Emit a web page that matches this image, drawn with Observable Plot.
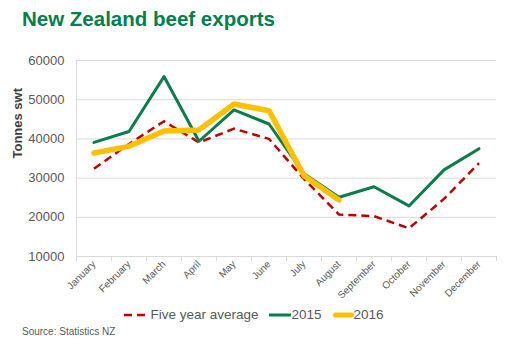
<!DOCTYPE html>
<html><head><meta charset="utf-8">
<script src="https://cdn.jsdelivr.net/npm/d3@7"></script>
<script src="https://cdn.jsdelivr.net/npm/@observablehq/plot@0.6"></script>
<style>
body{margin:0;width:505px;height:345px;overflow:hidden;background:#fff;font-family:"Liberation Sans",Arial,sans-serif;}
#title{font-size:20.5px;font-weight:bold;color:#00804a;line-height:20px;height:20px;padding:9px 0 11px 22px;white-space:nowrap;}
#chart{height:265px;}
#chart svg{display:block;}
#legend{height:20px;line-height:20px;font-size:13.5px;color:#595959;display:flex;justify-content:center;align-items:center;padding-left:3px;}
#legend .item{display:flex;align-items:center;margin:0 5.5px;}
#legend svg{display:block;}
#source{font-size:10px;line-height:14px;height:14px;color:#595959;padding-left:22px;}
</style>
</head><body>
<div id="title">New Zealand beef exports</div>
<div id="chart"></div>
<div id="legend">
  <span class="item"><svg width="21" height="10"><line x1="0" y1="5" x2="21" y2="5" stroke="#c00000" stroke-width="2.5" stroke-dasharray="8,5"/></svg><span style="margin-left:5px">Five year average</span></span>
  <span class="item"><svg width="22" height="10"><line x1="0" y1="5" x2="22" y2="5" stroke="#0a7d4a" stroke-width="3"/></svg><span>2015</span></span>
  <span class="item"><svg width="21" height="10"><line x1="2.5" y1="5" x2="18.5" y2="5" stroke="#ffc000" stroke-width="5" stroke-linecap="round"/></svg><span>2016</span></span>
</div>
<div id="source">Source: Statistics NZ</div>
<script>
const months = ["January","February","March","April","May","June","July","August","September","October","November","December"];
const fiveYearAvg = [32400, 38700, 44500, 39100, 42600, 40000, 29800, 20700, 20300, 17200, 24700, 33800];
const y2015 = [39100, 41900, 55900, 39400, 47400, 43800, 31100, 25100, 27800, 22900, 32100, 37500];
const y2016 = [36400, 38100, 42000, 42300, 48900, 47200, 30600, 24400];
const yTicks = [10000, 20000, 30000, 40000, 50000, 60000];

const toRows = arr => arr.map((v, i) => ({pos: i + 0.5, v}));
const avgRows = toRows(fiveYearAvg);
const rows2015 = toRows(y2015);
const rows2016 = toRows(y2016);
const boundaries = d3.range(months.length + 1);
const centers = d3.range(months.length).map(i => i + 0.5);

const chart = Plot.plot({
  width: 505,
  height: 265,
  marginLeft: 76,
  marginRight: 9,
  marginTop: 20,
  marginBottom: 49,
  style: {color: "#595959", fontFamily: "'Liberation Sans', Arial, sans-serif", background: "#fff"},
  x: {domain: [0, months.length]},
  y: {domain: [10000, 60000]},
  marks: [
    Plot.gridY(yTicks.slice(1), {stroke: "#d9d9d9", strokeOpacity: 1}),
    Plot.ruleY([10000], {stroke: "#d9d9d9"}),
    Plot.ruleX([0], {stroke: "#d9d9d9"}),
    Plot.axisX(boundaries, {tickSize: 5, text: null, stroke: "#d9d9d9", label: null}),
    Plot.axisX(centers, {tickSize: 0, tickPadding: 6, tickRotate: -45, fontSize: 10, tickFormat: d => months[Math.floor(d)], label: null}),
    Plot.axisY(yTicks, {tickSize: 0, tickPadding: 12, fontSize: 13, tickFormat: d3.format("d"), label: null}),
    Plot.text(["Tonnes swt"], {frameAnchor: "left", dx: -59, rotate: -90, fontSize: 13, fontWeight: "bold", fill: "#404040"}),
    Plot.line(avgRows, {x: "pos", y: "v", stroke: "#c00000", strokeWidth: 2.5, strokeDasharray: "8,5", strokeLinecap: "butt"}),
    Plot.line(rows2015, {x: "pos", y: "v", stroke: "#0a7d4a", strokeWidth: 3}),
    Plot.line(rows2016, {x: "pos", y: "v", stroke: "#ffc000", strokeWidth: 5.5})
  ]
});
document.getElementById("chart").appendChild(chart);
</script>
</body></html>
